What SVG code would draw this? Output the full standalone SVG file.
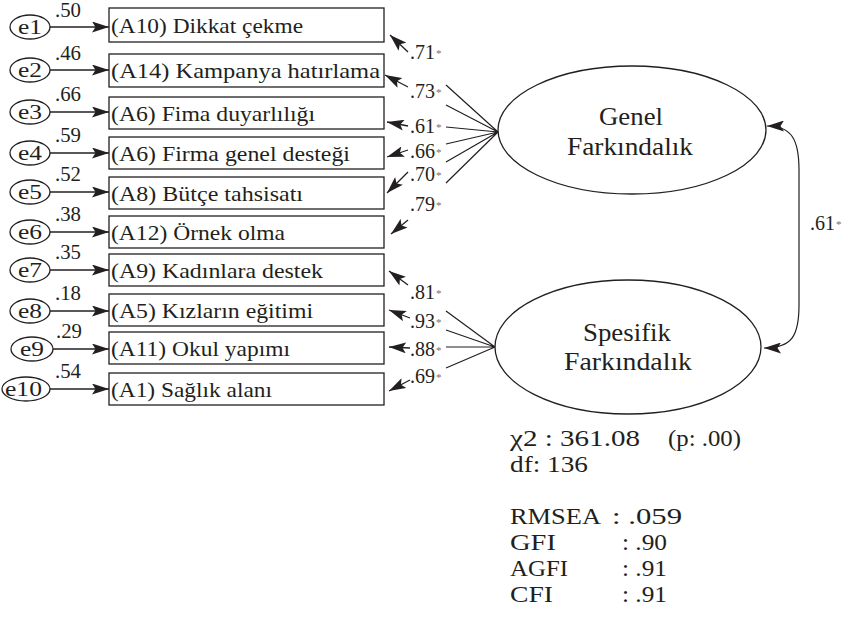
<svg xmlns="http://www.w3.org/2000/svg" width="846" height="637" viewBox="0 0 846 637">
  <style>
    .t { font-family: "Liberation Serif", "Times New Roman", serif; fill: #231f20; }
    .box { font-size: 22px; }
    .num { font-size: 20px; }
    .lat { font-size: 26px; }
    .fit { font-size: 23px; }
    .star { font-size: 11px; fill: #6d6e71; }
    .shape { fill: #ffffff; stroke: #231f20; stroke-width: 1.3; }
    .line { fill: none; stroke: #231f20; stroke-width: 1.2; }
    .arr { fill: none; stroke: #231f20; stroke-width: 1.3; marker-end: url(#ah); }
  </style>
  <defs>
    <marker id="ah" viewBox="0 0 17 11" refX="17" refY="5.5" markerWidth="17" markerHeight="11" markerUnits="userSpaceOnUse" orient="auto-start-reverse">
      <path d="M0,0 L17,5.5 L0,11 L3.5,5.5 Z" fill="#231f20"/>
    </marker>
  </defs>
  <rect width="846" height="637" fill="#ffffff"/>

  <!-- error terms -->
  <g id="e1"><ellipse class="shape" cx="30" cy="27" rx="20" ry="12"/><text class="t num" x="18" y="34" textLength="24" lengthAdjust="spacingAndGlyphs">e1</text></g>
  <g id="e2"><ellipse class="shape" cx="30" cy="70" rx="20" ry="12"/><text class="t num" x="18" y="77" textLength="24" lengthAdjust="spacingAndGlyphs">e2</text></g>
  <g id="e3"><ellipse class="shape" cx="30" cy="112" rx="20" ry="12"/><text class="t num" x="18" y="119" textLength="24" lengthAdjust="spacingAndGlyphs">e3</text></g>
  <g id="e4"><ellipse class="shape" cx="30" cy="153" rx="20" ry="12"/><text class="t num" x="18" y="160" textLength="24" lengthAdjust="spacingAndGlyphs">e4</text></g>
  <g id="e5"><ellipse class="shape" cx="30" cy="192" rx="20" ry="12"/><text class="t num" x="18" y="199" textLength="24" lengthAdjust="spacingAndGlyphs">e5</text></g>
  <g id="e6"><ellipse class="shape" cx="30" cy="232" rx="20" ry="12"/><text class="t num" x="18" y="239" textLength="24" lengthAdjust="spacingAndGlyphs">e6</text></g>
  <g id="e7"><ellipse class="shape" cx="30" cy="270" rx="20" ry="12"/><text class="t num" x="18" y="277" textLength="24" lengthAdjust="spacingAndGlyphs">e7</text></g>
  <g id="e8"><ellipse class="shape" cx="30" cy="311" rx="20" ry="12"/><text class="t num" x="18" y="318" textLength="24" lengthAdjust="spacingAndGlyphs">e8</text></g>
  <g id="e9"><ellipse class="shape" cx="32" cy="349" rx="21" ry="12"/><text class="t num" x="20" y="356" textLength="24" lengthAdjust="spacingAndGlyphs">e9</text></g>
  <g id="e10"><ellipse class="shape" cx="26" cy="389" rx="24" ry="12"/><text class="t num" x="5" y="396" textLength="37" lengthAdjust="spacingAndGlyphs">e10</text></g>

  <!-- observed indicators -->
  <g id="A10"><rect class="shape" x="109" y="8" width="275" height="34"/><text class="t box" x="111" y="33" textLength="192" lengthAdjust="spacingAndGlyphs">(A10) Dikkat çekme</text></g>
  <g id="A14"><rect class="shape" x="109" y="54" width="275" height="33"/><text class="t box" x="111" y="78" textLength="269" lengthAdjust="spacingAndGlyphs">(A14) Kampanya hatırlama</text></g>
  <g id="A6a"><rect class="shape" x="109" y="97" width="275" height="32"/><text class="t box" x="111" y="121" textLength="204" lengthAdjust="spacingAndGlyphs">(A6) Fima duyarlılığı</text></g>
  <g id="A6b"><rect class="shape" x="109" y="137" width="275" height="32"/><text class="t box" x="111" y="161" textLength="239" lengthAdjust="spacingAndGlyphs">(A6) Firma genel desteği</text></g>
  <g id="A8"><rect class="shape" x="109" y="177" width="275" height="32"/><text class="t box" x="111" y="201" textLength="192" lengthAdjust="spacingAndGlyphs">(A8) Bütçe tahsisatı</text></g>
  <g id="A12"><rect class="shape" x="109" y="216" width="275" height="32"/><text class="t box" x="111" y="240" textLength="174" lengthAdjust="spacingAndGlyphs">(A12) Örnek olma</text></g>
  <g id="A9"><rect class="shape" x="109" y="254" width="275" height="32"/><text class="t box" x="111" y="278" textLength="212" lengthAdjust="spacingAndGlyphs">(A9) Kadınlara destek</text></g>
  <g id="A5"><rect class="shape" x="109" y="294" width="275" height="32"/><text class="t box" x="111" y="318" textLength="202" lengthAdjust="spacingAndGlyphs">(A5) Kızların eğitimi</text></g>
  <g id="A11"><rect class="shape" x="109" y="332" width="275" height="32"/><text class="t box" x="111" y="356" textLength="179" lengthAdjust="spacingAndGlyphs">(A11) Okul yapımı</text></g>
  <g id="A1"><rect class="shape" x="109" y="373" width="275" height="32"/><text class="t box" x="111" y="397" textLength="161" lengthAdjust="spacingAndGlyphs">(A1) Sağlık alanı</text></g>

  <!-- latent factors -->
  <g id="genel">
    <ellipse class="shape" cx="632" cy="130" rx="134" ry="64"/>
    <text class="t lat" x="631" y="125" text-anchor="middle" textLength="64" lengthAdjust="spacingAndGlyphs">Genel</text>
    <text class="t lat" x="630" y="155" text-anchor="middle" textLength="126" lengthAdjust="spacingAndGlyphs">Farkındalık</text>
  </g>
  <g id="spesifik">
    <ellipse class="shape" cx="628" cy="347" rx="133" ry="67"/>
    <text class="t lat" x="627" y="341" text-anchor="middle" textLength="88" lengthAdjust="spacingAndGlyphs">Spesifik</text>
    <text class="t lat" x="628" y="370" text-anchor="middle" textLength="128" lengthAdjust="spacingAndGlyphs">Farkındalık</text>
  </g>

  <!-- connectors -->
  <g id="connectors">
    <!-- error paths -->
    <line class="arr" x1="50" y1="27" x2="109" y2="27"/>
    <line class="arr" x1="50" y1="70" x2="109" y2="70"/>
    <line class="arr" x1="50" y1="112" x2="109" y2="112"/>
    <line class="arr" x1="50" y1="153" x2="109" y2="153"/>
    <line class="arr" x1="50" y1="192" x2="109" y2="192"/>
    <line class="arr" x1="50" y1="232" x2="109" y2="232"/>
    <line class="arr" x1="50" y1="270" x2="109" y2="270"/>
    <line class="arr" x1="50" y1="311" x2="109" y2="311"/>
    <line class="arr" x1="53" y1="349" x2="109" y2="349"/>
    <line class="arr" x1="50" y1="389" x2="109" y2="389"/>

    <!-- Genel Farkındalık loadings -->
    <path class="line" d="M498,132 L446,85 M498,132 L446,105 M498,132 L446,127 M498,132 L446,144 M498,132 L446,162 M498,132 L446,183"/>
    <line class="arr" x1="408" y1="52" x2="390" y2="35"/>
    <line class="arr" x1="408" y1="87" x2="385" y2="75"/>
    <line class="arr" x1="408" y1="126" x2="387" y2="122"/>
    <line class="arr" x1="408" y1="150" x2="387" y2="157"/>
    <line class="arr" x1="408" y1="172" x2="387" y2="193"/>
    <line class="arr" x1="408" y1="220" x2="391" y2="234"/>

    <!-- Spesifik Farkındalık loadings -->
    <path class="line" d="M495,347 L446,311 M495,347 L446,330 M495,347 L446,347 M495,347 L446,368"/>
    <line class="arr" x1="408" y1="285" x2="389" y2="271"/>
    <line class="arr" x1="410" y1="318" x2="389" y2="310"/>
    <line class="arr" x1="410" y1="348" x2="389" y2="347"/>
    <line class="arr" x1="410" y1="380" x2="389" y2="391"/>

    <!-- factor covariance -->
    <path class="line" d="M767,126 C792,126 799,140 799,170 L799,305 C799,336 792,348 764,348" marker-start="url(#ah)" marker-end="url(#ah)"/>
  </g>

  <!-- error variances -->
  <g id="error-values" class="t num">
    <text x="55" y="17" textLength="26" lengthAdjust="spacingAndGlyphs">.50</text>
    <text x="55" y="60" textLength="26" lengthAdjust="spacingAndGlyphs">.46</text>
    <text x="55" y="101" textLength="26" lengthAdjust="spacingAndGlyphs">.66</text>
    <text x="55" y="142" textLength="26" lengthAdjust="spacingAndGlyphs">.59</text>
    <text x="55" y="181" textLength="26" lengthAdjust="spacingAndGlyphs">.52</text>
    <text x="55" y="221" textLength="26" lengthAdjust="spacingAndGlyphs">.38</text>
    <text x="55" y="259" textLength="26" lengthAdjust="spacingAndGlyphs">.35</text>
    <text x="55" y="300" textLength="26" lengthAdjust="spacingAndGlyphs">.18</text>
    <text x="56" y="338" textLength="26" lengthAdjust="spacingAndGlyphs">.29</text>
    <text x="55" y="378" textLength="26" lengthAdjust="spacingAndGlyphs">.54</text>
  </g>

  <!-- loading values -->
  <g id="loading-values" class="t num">
    <text x="410" y="59">.71<tspan class="star" dx="1" dy="-2">*</tspan></text>
    <text x="410" y="98">.73<tspan class="star" dx="1" dy="-2">*</tspan></text>
    <text x="410" y="133">.61<tspan class="star" dx="1" dy="-2">*</tspan></text>
    <text x="410" y="158">.66<tspan class="star" dx="1" dy="-2">*</tspan></text>
    <text x="410" y="181">.70<tspan class="star" dx="1" dy="-2">*</tspan></text>
    <text x="410" y="211">.79<tspan class="star" dx="1" dy="-2">*</tspan></text>
    <text x="410" y="299">.81<tspan class="star" dx="1" dy="-2">*</tspan></text>
    <text x="410" y="328">.93<tspan class="star" dx="1" dy="-2">*</tspan></text>
    <text x="410" y="356">.88<tspan class="star" dx="1" dy="-2">*</tspan></text>
    <text x="410" y="383">.69<tspan class="star" dx="1" dy="-2">*</tspan></text>
    <text x="810" y="230">.61<tspan class="star" dx="1" dy="-2">*</tspan></text>
  </g>

  <!-- fit indices -->
  <g id="fit" class="t fit">
    <text x="510" y="446" textLength="130" lengthAdjust="spacingAndGlyphs">χ2 : 361.08</text>
    <text x="668" y="446" textLength="73" lengthAdjust="spacingAndGlyphs">(p: .00)</text>
    <text x="510" y="472" textLength="78" lengthAdjust="spacingAndGlyphs">df: 136</text>
    <text x="510" y="524" textLength="91" lengthAdjust="spacingAndGlyphs">RMSEA</text><text x="612" y="524" textLength="70" lengthAdjust="spacingAndGlyphs">: .059</text>
    <text x="510" y="550" textLength="46" lengthAdjust="spacingAndGlyphs">GFI</text><text x="622" y="550" textLength="45" lengthAdjust="spacingAndGlyphs">: .90</text>
    <text x="510" y="576" textLength="58" lengthAdjust="spacingAndGlyphs">AGFI</text><text x="622" y="576" textLength="45" lengthAdjust="spacingAndGlyphs">: .91</text>
    <text x="510" y="602" textLength="43" lengthAdjust="spacingAndGlyphs">CFI</text><text x="622" y="602" textLength="45" lengthAdjust="spacingAndGlyphs">: .91</text>
  </g>
</svg>
